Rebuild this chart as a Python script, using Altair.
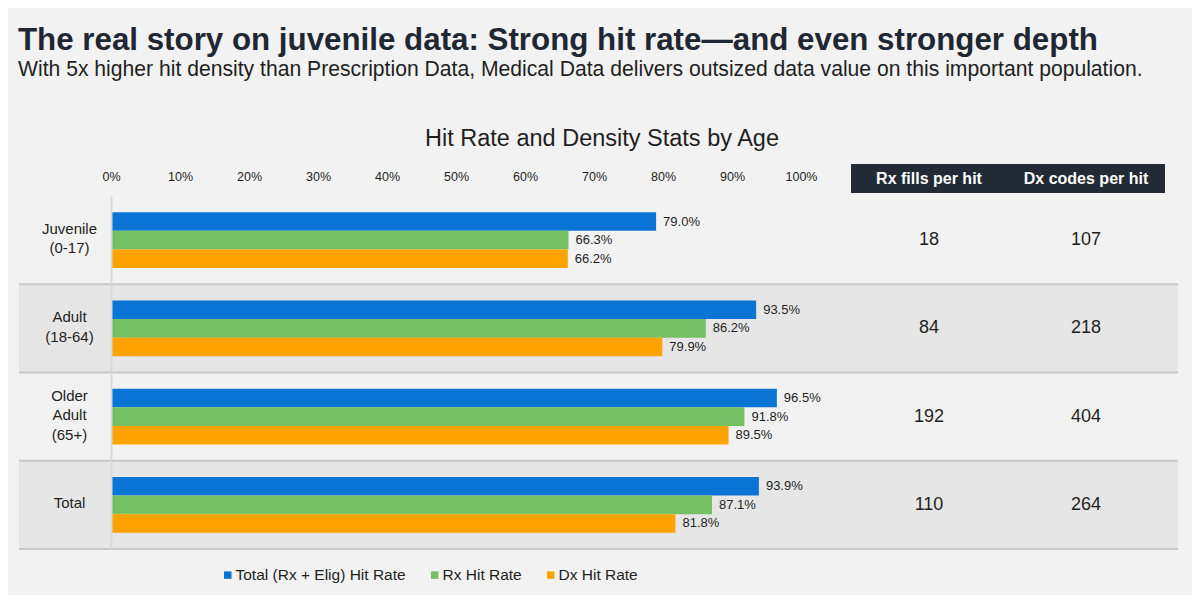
import altair as alt
import pandas as pd

# ---- data ----
categories = ["Juvenile|(0-17)", "Adult|(18-64)", "Older|Adult|(65+)", "Total"]
series = ["Total (Rx + Elig) Hit Rate", "Rx Hit Rate", "Dx Hit Rate"]
total_rate = [0.790, 0.935, 0.965, 0.939]
rx_rate = [0.663, 0.862, 0.918, 0.871]
dx_rate = [0.662, 0.799, 0.895, 0.818]
rx_fills = [18, 84, 192, 110]
dx_codes = [107, 218, 404, 264]
shaded = [False, True, False, True]
colors = ["#0a74d4", "#74c062", "#ffa300"]
tick_values = [0, 0.1, 0.2, 0.3, 0.4, 0.5, 0.6, 0.7, 0.8, 0.9, 1.0]

FONT = "Liberation Sans"
INK = "#1f1f1f"

rows = []
for i, c in enumerate(categories):
    for s, vals in zip(series, [total_rate, rx_rate, dx_rate]):
        rows.append({"cat": c, "series": s, "value": vals[i]})
bars_df = pd.DataFrame(rows)
table_df = pd.DataFrame({"cat": categories, "rx": rx_fills, "dx": dx_codes, "shaded": shaded})

y_axis = alt.Axis(labelExpr="split(datum.label, '|')", labelAlign="center",
                  labelBaseline="middle", labelPadding=42, labelFontSize=15,
                  labelLineHeight=19.5, labelColor=INK, labelFont=FONT,
                  labelOffset={"expr": "-(length(split(datum.label, '|')) - 1) * 9.75 - 1.5"},
                  ticks=False, domain=True, domainColor="#d9d9d9",
                  domainWidth=2, grid=False, zindex=1, title=None)
y_scale = alt.Scale(paddingInner=0, paddingOuter=0)
y_shared = alt.Y("cat:N", sort=categories, title=None, scale=y_scale, axis=y_axis)
y_offset = alt.YOffset("series:N", sort=series,
                       scale=alt.Scale(paddingInner=0, paddingOuter=0.885))

bands = alt.Chart(table_df).transform_filter("datum.shaded").mark_rect(color="#e6e6e6").encode(
    y=y_shared, x=alt.value(-92), x2=alt.value(1067))

seps = alt.Chart(table_df).mark_rule(color="#c8c8c8", strokeWidth=2).encode(
    y=alt.Y("cat:N", sort=categories, bandPosition=1, title=None, scale=y_scale, axis=y_axis),
    x=alt.value(-92), x2=alt.value(1067))

x_enc = alt.X("value:Q", scale=alt.Scale(domain=[0, 1], nice=False, zero=True),
              axis=alt.Axis(orient="top", values=tick_values, format=".0%", domain=False,
                            ticks=False, grid=False, labelPadding=13, labelFontSize=12.5,
                            labelColor=INK, labelFont=FONT, labelFlush=False), title=None)

bars = alt.Chart(bars_df).mark_bar().encode(
    x=x_enc,
    y=y_shared,
    yOffset=y_offset,
    color=alt.Color("series:N", sort=series,
                    scale=alt.Scale(domain=series, range=colors),
                    legend=alt.Legend(orient="none", legendX=109, legendY=371,
                                      direction="horizontal", title=None,
                                      symbolType="square", symbolSize=56,
                                      symbolStrokeWidth=0, labelFontSize=15.5,
                                      labelColor=INK, labelFont=FONT, labelLimit=400,
                                      labelOffset=0, columnPadding=21)),
)

values = alt.Chart(bars_df).mark_text(align="left", baseline="middle", dx=7,
                                      fontSize=13, font=FONT, color=INK).encode(
    x=x_enc, y=y_shared, yOffset=y_offset,
    text=alt.Text("value:Q", format=".1%"))

rx_text = alt.Chart(table_df).mark_text(fontSize=18, font=FONT, color=INK, baseline="middle").encode(
    x=alt.value(818), y=y_shared, text="rx:Q")
dx_text = alt.Chart(table_df).mark_text(fontSize=18, font=FONT, color=INK, baseline="middle").encode(
    x=alt.value(975), y=y_shared, text="dx:Q")

one = alt.Data(values=[{"k": 1}])
header_box = alt.Chart(one).mark_rect(color="#222a35").encode(
    x=alt.value(740), x2=alt.value(1054), y=alt.value(-32), y2=alt.value(-3))
h1 = alt.Chart(one).mark_text(text="Rx fills per hit", fontSize=16, fontWeight="bold",
                              font=FONT, color="white", baseline="middle").encode(
    x=alt.value(818), y=alt.value(-17))
h2 = alt.Chart(one).mark_text(text="Dx codes per hit", fontSize=16, fontWeight="bold",
                              font=FONT, color="white", baseline="middle").encode(
    x=alt.value(975), y=alt.value(-17))
chart_title = alt.Chart(one).mark_text(text="Hit Rate and Density Stats by Age", fontSize=23.5,
                                       font=FONT, color=INK, baseline="middle").encode(
    x=alt.value(491), y=alt.value(-57))

chart = alt.layer(bands, seps, bars, values, rx_text, dx_text, header_box, h1, h2, chart_title).properties(
    width=690, height=353,
    padding={"left": 103, "top": 188, "right": 391, "bottom": 46},
    autosize=alt.AutoSizeParams(type="none"),
    title=alt.TitleParams(
        text="The real story on juvenile data: Strong hit rate\u2014and even stronger depth",
        subtitle="With 5x higher hit density than Prescription Data, Medical Data delivers outsized data value on this important population.",
        anchor="start", frame="group", dx=-93, offset=47,
        font=FONT, fontSize=31.3, fontWeight="bold", color="#1f2733",
        subtitleFont=FONT, subtitleFontSize=21.15, subtitleColor="#1f1f1f", subtitlePadding=3),
).configure(background="#f2f2f2").configure_view(stroke=None)

chart.save("out.html", embed_options={"renderer": "svg", "actions": False})
